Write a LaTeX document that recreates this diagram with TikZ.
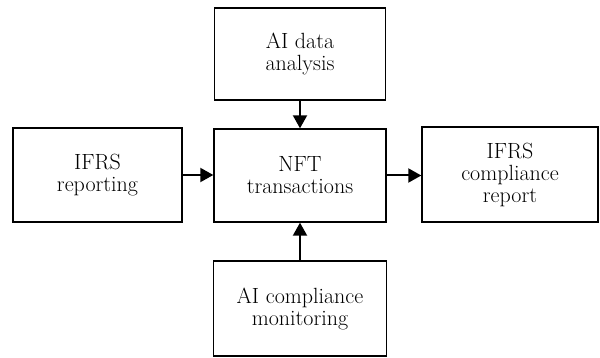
\documentclass[tikz,border=0pt]{standalone}
\usepackage{fontspec}
\usetikzlibrary{arrows.meta}
\begin{document}
\begin{tikzpicture}[x=1pt,y=-1pt,
  box/.style={draw,line width=1.4pt,inner sep=0pt,align=center,
    font=\fontsize{22}{22}\selectfont},
  conn/.style={line width=2pt,-{Triangle[length=13pt,width=14pt]}}]
\useasboundingbox (0,0) rectangle (600,358);
\node[box,minimum width=171pt,minimum height=92pt] (top) at (300,54) {AI data\\analysis};
\node[box,minimum width=169pt,minimum height=94pt] (left) at (97.5,175) {IFRS\\reporting};
\node[box,minimum width=172pt,minimum height=93pt] (ctr) at (300,175.5) {NFT\\transactions};
\node[box,minimum width=176pt,minimum height=95pt] (right) at (510,174.5) {IFRS\\compliance\\report};
\node[box,minimum width=173pt,minimum height=95pt] (bot) at (300,308.5) {AI compliance\\monitoring};
\draw[conn] (top) -- (ctr);
\draw[conn] (left) -- (left -| ctr.west);
\draw[conn] (ctr) -- (ctr -| right.west);
\draw[conn] (bot) -- (ctr);
\end{tikzpicture}
\end{document}
